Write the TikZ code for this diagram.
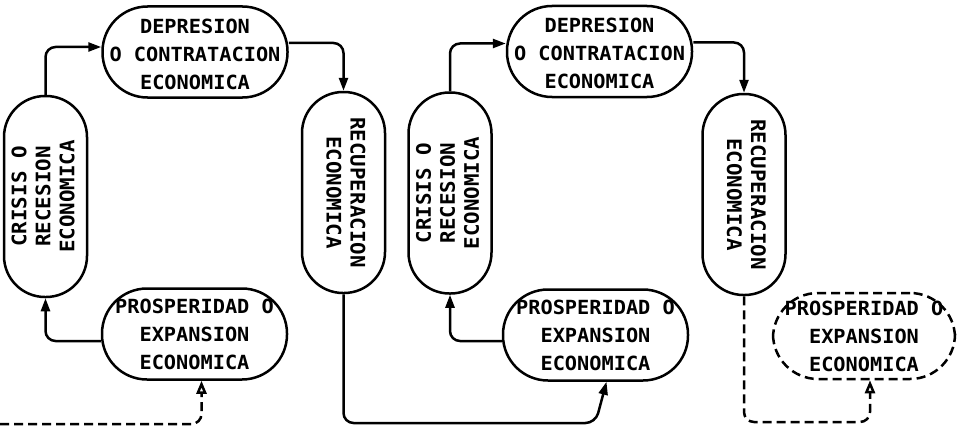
\documentclass[tikz,border=0pt]{standalone}
\usepackage{fontspec}
\usepackage{graphicx}
\newfontfamily\tw[FakeStretch=1.04]{DejaVu Sans Mono}
\usetikzlibrary{arrows.meta}
\newcommand{\vtextiii}[4]{\rotatebox{#1}{\begin{tabular}{@{}c@{}}#2\\#3\\#4\end{tabular}}}
\newcommand{\vtextii}[3]{\rotatebox{#1}{\begin{tabular}{@{}c@{}}#2\\#3\end{tabular}}}
\newcommand{\htext}[4]{\raisebox{#1}[0pt][0pt]{\begin{tabular}{@{}c@{}}#2\\#3\\#4\end{tabular}}}
\begin{document}
\begin{tikzpicture}[x=1pt,y=-1pt,
  hbox/.style={draw, line width=2.5pt, rounded corners=45pt, minimum width=185pt, minimum height=91pt, inner sep=0pt, font=\tw\bfseries\fontsize{19.5}{28}\selectfont},
  vbox/.style={draw, line width=2.5pt, rounded corners=41pt, minimum width=83pt, minimum height=201pt, inner sep=0pt, font=\tw\bfseries\fontsize{20}{24}\selectfont},
  conn/.style={line width=2.5pt, rounded corners=10pt, -{Triangle[length=13pt,width=9pt]}},
  dconn/.style={line width=2.5pt, rounded corners=10pt, dash pattern=on 9pt off 5pt, -{Triangle[open,length=13pt,width=10pt]}}
]
\useasboundingbox (0,0) rectangle (963,428);
% first cycle
\node[hbox] (dep1) at (195,52) {\htext{-9pt}{DEPRESION}{O CONTRATACION}{ECONOMICA}};
\node[vbox] (cr1) at (45.5,196.5) {\vtextiii{90}{CRISIS O}{RECESION}{ECONOMICA}};
\node[vbox] (rec1) at (343.5,192.5) {\vtextii{-90}{RECUPERACION}{ECONOMICA}};
\node[hbox] (pro1) at (194.5,334) {\htext{-7pt}{PROSPERIDAD O}{EXPANSION}{ECONOMICA}};
% second cycle
\node[hbox] (dep2) at (599.5,51.5) {\htext{-9pt}{DEPRESION}{O CONTRATACION}{ECONOMICA}};
\node[vbox] (cr2) at (450,193) {\vtextiii{90}{CRISIS O}{RECESION}{ECONOMICA}};
\node[vbox] (rec2) at (744,194.5) {\vtextii{-90}{RECUPERACION}{ECONOMICA}};
\node[hbox] (pro2) at (595.5,335) {\htext{-7pt}{PROSPERIDAD O}{EXPANSION}{ECONOMICA}};
\node[hbox, dash pattern=on 9pt off 5pt, minimum width=182pt, minimum height=86pt] (pro3) at (864,336) {\htext{-7pt}{PROSPERIDAD O}{EXPANSION}{ECONOMICA}};
% coordinates
\coordinate (s0) at (0,424);
\coordinate (b1) at (0,423);
\coordinate (b2) at (0,422);
% connectors cycle 1
\draw[conn] (cr1.north) |- ([yshift=5pt]dep1.west);
\draw[conn] ([yshift=9pt]dep1.east) -| (rec1.north);
\draw[conn] ([yshift=-7pt]pro1.west) -| (cr1.south);
\draw[dconn] (s0) -| ([xshift=7pt]pro1.south);
\draw[conn] (rec1.south) |- (b1 -| pro2.south) -- ([xshift=11pt]pro2.south);
% connectors cycle 2
\draw[conn] (cr2.north) |- ([yshift=8pt]dep2.west);
\draw[conn] ([yshift=9pt]dep2.east) -| (rec2.north);
\draw[conn] ([yshift=-6pt]pro2.west) -| (cr2.south);
\draw[dconn] (rec2.south) |- ([xshift=6pt]b2 -| pro3.south) -- ([xshift=6pt]pro3.south);
\end{tikzpicture}
\end{document}
